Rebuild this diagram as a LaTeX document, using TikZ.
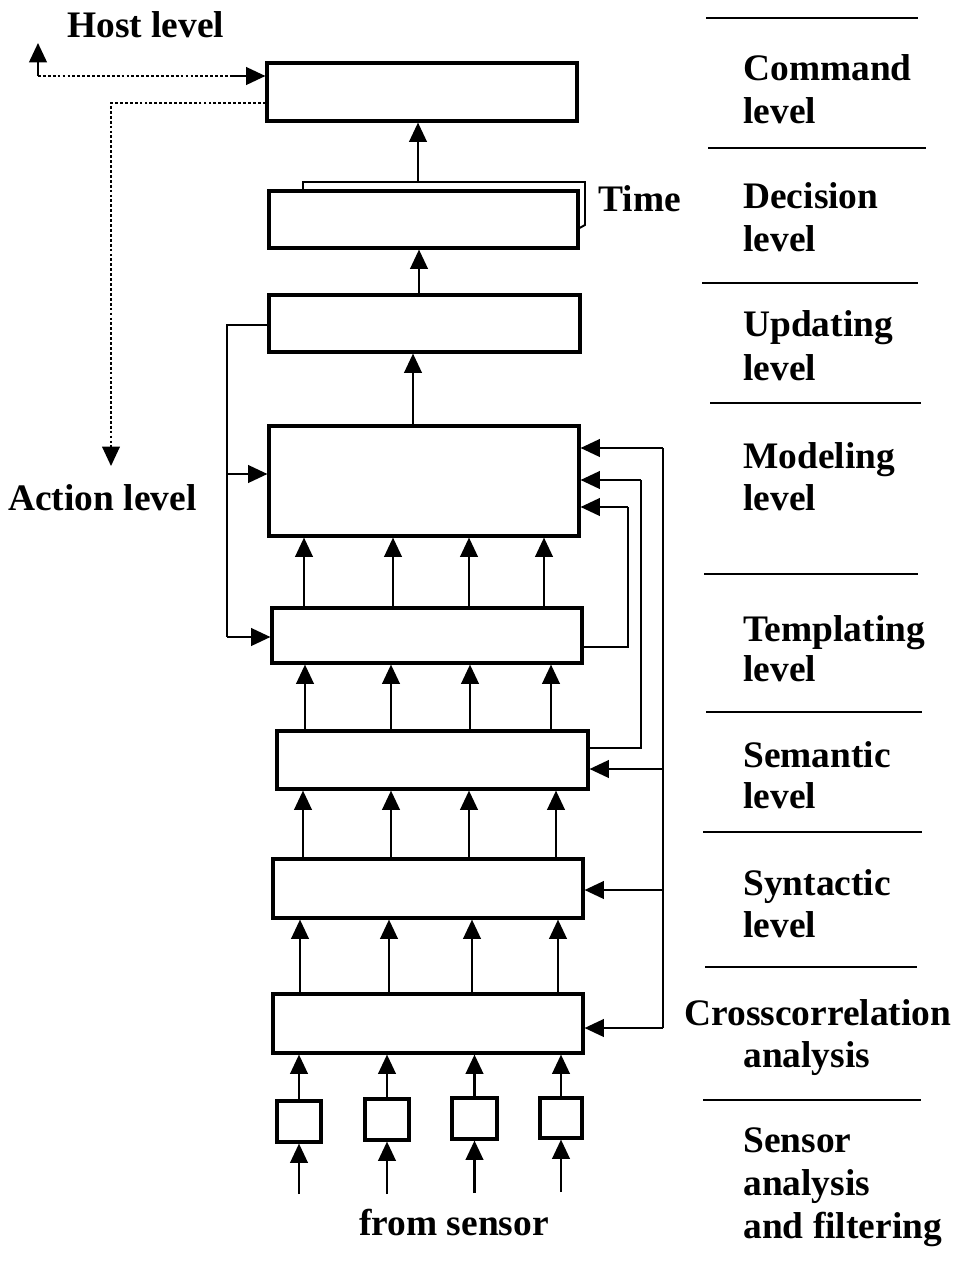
\documentclass[tikz,border=0pt]{standalone}
\usepackage{fontspec}
\setmainfont{Liberation Serif}
\usetikzlibrary{arrows.meta}
\begin{document}
\begin{tikzpicture}[x=0.02cm,y=-0.02cm,
  blk/.style={draw, line width=1.8pt, inner sep=0pt},
  arrowtip/.style={-{Triangle[length=11pt,width=10pt]}},
  arr/.style={line width=1.3pt, arrowtip},
  ln/.style={line width=1.3pt},
  dotln/.style={line width=1pt, dash pattern=on 1.6pt off 1.2pt},
  lab/.style={anchor=base west, inner sep=0pt, font=\fontsize{21.3}{24}\selectfont\bfseries},
  sepln/.style={line width=1.4pt}]
\useasboundingbox (0,0) rectangle (969,1265);

% main boxes
\node[blk, minimum width=6.2cm,  minimum height=1.16cm] (cmd) at (422,92) {};
\node[blk, minimum width=6.18cm, minimum height=1.14cm] (dec) at (423.5,219.5) {};
\node[blk, minimum width=6.22cm, minimum height=1.14cm] (upd) at (424.5,323.5) {};
\node[blk, minimum width=6.2cm,  minimum height=2.2cm]  (mod) at (424,481) {};
\node[blk, minimum width=6.2cm,  minimum height=1.1cm]  (tpl) at (427,635.5) {};
\node[blk, minimum width=6.22cm, minimum height=1.16cm] (sem) at (432.5,760) {};
\node[blk, minimum width=6.2cm,  minimum height=1.18cm] (syn) at (428,888.5) {};
\node[blk, minimum width=6.2cm,  minimum height=1.18cm] (xc)  at (428,1023.5) {};
% sensor boxes
\node[blk, minimum width=0.88cm, minimum height=0.82cm] (s1) at (299,1121.5) {};
\node[blk, minimum width=0.88cm, minimum height=0.82cm] (s2) at (387,1119.5) {};
\node[blk, minimum width=0.9cm,  minimum height=0.82cm] (s3) at (474.5,1118.5) {};
\node[blk, minimum width=0.84cm, minimum height=0.8cm]  (s4) at (561,1118) {};

% sensor inputs
\coordinate (i1) at (299,1194);
\coordinate (i2) at (387,1194);
\coordinate (i3) at (474.5,1193);
\coordinate (i4) at (561,1192);
\draw[arr] (i1) -- (s1.south);
\draw[arr] (i2) -- (s2.south);
\draw[arr] (i3) -- (s3.south);
\draw[arr] (i4) -- (s4.south);
% sensors -> crosscorrelation
\draw[arr] (s1.north) -- (s1.north |- xc.south);
\draw[arr] (s2.north) -- (s2.north |- xc.south);
\draw[arr] (s3.north) -- (s3.north |- xc.south);
\draw[arr] (s4.north) -- (s4.north |- xc.south);
% crosscorrelation -> syntactic
\foreach \c in {300,389,472,558} \draw[arr] (xc.north -| \c,0) -- (syn.south -| \c,0);
% syntactic -> semantic
\foreach \c in {303,391,469,556} \draw[arr] (syn.north -| \c,0) -- (sem.south -| \c,0);
% semantic -> templating
\foreach \c in {305,391,470,551} \draw[arr] (sem.north -| \c,0) -- (tpl.south -| \c,0);
% templating -> modeling
\foreach \c in {304,393,469,544} \draw[arr] (tpl.north -| \c,0) -- (mod.south -| \c,0);
% modeling -> updating -> decision
\draw[arr] (mod.north -| 413,0) -- (upd.south -| 413,0);
\draw[arr] (upd.north -| 419,0) -- (dec.south -| 419,0);
% time bracket and decision -> command
\coordinate (tb) at (418,182);
\draw[line width=1.1pt] (dec.north -| 303,0) -- (303,182) -- (585,182) -- (585,225) -- (dec.east |- 0,228);
\draw[arr] (tb) -- (cmd.south -| tb);

% left feedback from updating
\draw[ln] (upd.west |- 0,325) -- (227,325) -- (227,637);
\draw[arr] (227,637) -- (tpl.west |- 0,637);
\draw[arr] (227,474) -- (mod.west |- 0,474);

% right feedback lines
\draw[ln] (tpl.east |- 0,647) -- (628,647) -- (628,507);
\draw[arr] (628,507) -- (mod.east |- 0,507);
\draw[ln] (sem.east |- 0,748) -- (641,748) -- (641,480);
\draw[arr] (641,480) -- (mod.east |- 0,480);
\draw[ln] (663,1028) -- (663,448);
\draw[arr] (663,448) -- (mod.east |- 0,448);
\draw[arr] (663,769) -- (sem.east |- 0,769);
\draw[arr] (663,890) -- (syn.east |- 0,890);
\draw[arr] (663,1028) -- (xc.east |- 0,1028);

% host / action level dotted links
\coordinate (hc) at (38,76);
\coordinate (hm) at (230,76);
\coordinate (ht) at (38,43);
\coordinate (ac) at (111,103);
\coordinate (at) at (111,466);
\draw[arr] (hc) -- (ht);
\draw[dotln] (hc) -- (hm);
\draw[arr] (hm) -- (cmd.west |- hm);
\draw[dotln] (cmd.west |- ac) -- (ac) -- (111,448);
\draw[line width=1pt, arrowtip] (111,448) -- (at);

% labels
\node[lab] (host) at (67,37) {Host level};
\node[lab] (timel) at (598,211) {Time};
\node[lab] (act) at (8,510) {Action level};
\node[lab] (fs) at (359,1235) {from sensor};

% right column separators
\draw[sepln] (706,18) -- (918,18);
\draw[sepln] (708,148) -- (926,148);
\draw[sepln] (702,283) -- (918,283);
\draw[sepln] (710,403) -- (921,403);
\draw[sepln] (704,574) -- (918,574);
\draw[sepln] (706,712) -- (922,712);
\draw[sepln] (703,832) -- (922,832);
\draw[sepln] (705,967) -- (917,967);
\draw[sepln] (703,1100) -- (921,1100);

% right column labels
\node[lab] (l1a) at (743,80) {Command};
\node[lab] (l1b) at (743,123) {level};
\node[lab] (l2a) at (743,208) {Decision};
\node[lab] (l2b) at (743,251) {level};
\node[lab] (l3a) at (743,336) {Updating};
\node[lab] (l3b) at (743,380) {level};
\node[lab] (l4a) at (743,468) {Modeling};
\node[lab] (l4b) at (743,510) {level};
\node[lab] (l5a) at (743,641) {Templating};
\node[lab] (l5b) at (743,681) {level};
\node[lab] (l6a) at (743,767) {Semantic};
\node[lab] (l6b) at (743,808) {level};
\node[lab] (l7a) at (743,895) {Syntactic};
\node[lab] (l7b) at (743,937) {level};
\node[lab] (l8a) at (684,1025) {Crosscorrelation};
\node[lab] (l8b) at (743,1067) {analysis};
\node[lab] (l9a) at (743,1152) {Sensor};
\node[lab] (l9b) at (743,1195) {analysis};
\node[lab] (l9c) at (743,1238) {and filtering};
\end{tikzpicture}
\end{document}
